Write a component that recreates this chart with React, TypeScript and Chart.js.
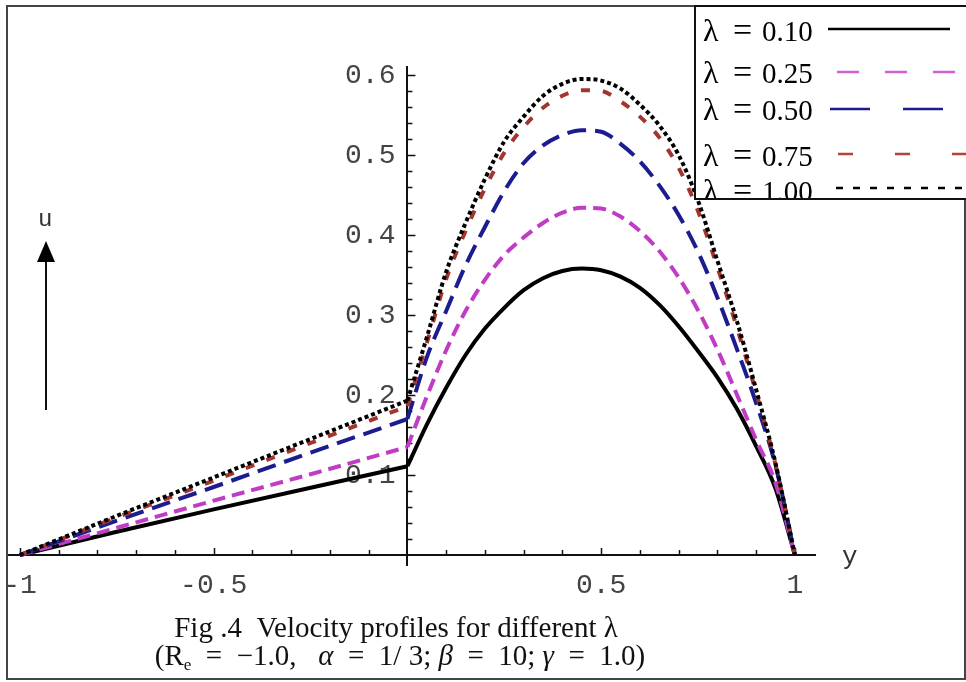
import React, { useEffect, useRef } from "react";
import { Chart, registerables } from "chart.js";

Chart.register(...registerables);

// Horizontal coordinate (labelled "y" in the figure)
const yPositions = [-1, -0.75, -0.5, -0.25, 0, 0.05, 0.1, 0.15, 0.2, 0.25, 0.3, 0.35, 0.4, 0.45, 0.5, 0.55, 0.6, 0.65, 0.7, 0.75, 0.8, 0.85, 0.9, 0.95, 1];

// Velocity u for each lambda
const uLambda010 = [0, 0.029, 0.057, 0.084, 0.111, 0.163, 0.209, 0.25, 0.283, 0.309, 0.331, 0.346, 0.355, 0.358, 0.356, 0.348, 0.334, 0.313, 0.286, 0.255, 0.222, 0.183, 0.136, 0.083, 0];
const uLambda025 = [0, 0.034, 0.068, 0.101, 0.135, 0.198, 0.256, 0.305, 0.344, 0.375, 0.397, 0.415, 0.428, 0.434, 0.433, 0.423, 0.405, 0.38, 0.347, 0.306, 0.257, 0.201, 0.144, 0.09, 0];
const uLambda050 = [0, 0.043, 0.085, 0.128, 0.17, 0.247, 0.305, 0.362, 0.41, 0.455, 0.49, 0.512, 0.525, 0.531, 0.529, 0.514, 0.492, 0.462, 0.425, 0.379, 0.322, 0.258, 0.19, 0.112, 0];
const uLambda075 = [0, 0.047, 0.093, 0.14, 0.186, 0.265, 0.345, 0.405, 0.458, 0.503, 0.535, 0.559, 0.574, 0.581, 0.58, 0.567, 0.548, 0.522, 0.484, 0.43, 0.36, 0.285, 0.203, 0.113, 0];
const uLambda100 = [0, 0.049, 0.097, 0.145, 0.193, 0.272, 0.354, 0.415, 0.47, 0.517, 0.548, 0.574, 0.589, 0.595, 0.593, 0.583, 0.563, 0.537, 0.5, 0.443, 0.368, 0.293, 0.207, 0.115, 0];

const seriesLabels = ["λ = 0.10", "λ = 0.25", "λ = 0.50", "λ = 0.75", "λ = 1.00"];

// Axis ticks
const xTickValues = [-1, -0.5, 0.5, 1];
const yTickValues = [0.1, 0.2, 0.3, 0.4, 0.5, 0.6];
const xMarkValues = [-1, -0.9, -0.8, -0.7, -0.6, -0.5, -0.4, -0.3, -0.2, -0.1, 0.1, 0.2, 0.3, 0.4, 0.5, 0.6, 0.7, 0.8, 0.9, 1];
const yMarkValues = [0.02, 0.04, 0.06, 0.08, 0.1, 0.12, 0.14, 0.16, 0.18, 0.2, 0.22, 0.24, 0.26, 0.28, 0.3, 0.32, 0.34, 0.36, 0.38, 0.4, 0.42, 0.44, 0.46, 0.48, 0.5, 0.52, 0.54, 0.56, 0.58, 0.6];

const captionLine1 = "Fig .4  Velocity profiles for different λ";
const axisLabelX = "y";
const axisLabelY = "u";

const MONO = "'Liberation Mono', 'DejaVu Sans Mono', monospace";
const SERIF = "'Liberation Serif', 'DejaVu Serif', serif";

const styles = [
  { color: "#000000", dash: [] as number[], order: 4, legendColor: "#000000", legendDash: [] as number[], legendStart: 828, lineY: 29, base: 41 },
  { color: "#C03CC4", dash: [13, 7], order: 3, legendColor: "#D060D0", legendDash: [22, 26], legendStart: 837, lineY: 72, base: 83 },
  { color: "#1C1C8E", dash: [19, 9], order: 2, legendColor: "#1C1C8E", legendDash: [40, 33], legendStart: 830, lineY: 109, base: 120 },
  { color: "#A4342E", dash: [9, 13], order: 1, legendColor: "#B0443C", legendDash: [15, 42], legendStart: 838, lineY: 154, base: 166 },
  { color: "#000000", dash: [4, 3], order: 0, legendColor: "#000000", legendDash: [7, 10], legendStart: 836, lineY: 188, base: 201 },
];

const seriesValues = [uLambda010, uLambda025, uLambda050, uLambda075, uLambda100];

const markPlugin = {
  id: "axisMarks",
  beforeDatasetsDraw(chart: any) {
    const { ctx } = chart;
    const xs = chart.scales.x;
    const ys = chart.scales.y;
    const x0 = xs.getPixelForValue(0);
    const y0 = ys.getPixelForValue(0);
    ctx.save();
    ctx.strokeStyle = "#111";
    ctx.lineWidth = 1.5;
    ctx.beginPath();
    xMarkValues.forEach((v) => {
      const px = Math.round(xs.getPixelForValue(v)) + 0.5;
      const len = xTickValues.includes(v) ? 7 : 5;
      ctx.moveTo(px, y0);
      ctx.lineTo(px, y0 - len);
    });
    yMarkValues.forEach((v) => {
      const py = Math.round(ys.getPixelForValue(v)) + 0.5;
      const major = Math.abs(v * 10 - Math.round(v * 10)) < 1e-6;
      const len = major ? 8 : 5;
      ctx.moveTo(x0, py);
      ctx.lineTo(x0 + len, py);
    });
    ctx.stroke();
    // y tick labels, placed from the y scale
    ctx.fillStyle = "#444";
    ctx.font = `28px ${MONO}`;
    ctx.textAlign = "right";
    ctx.textBaseline = "middle";
    yTickValues.forEach((v) => {
      ctx.fillText(v.toFixed(1), x0 - 12, ys.getPixelForValue(v) + 1);
    });
    ctx.restore();
  },
};

const decorPlugin = {
  id: "decor",
  afterDraw(chart: any) {
    const { ctx } = chart;
    const ys = chart.scales.y;
    ctx.save();
    // outer frame
    ctx.strokeStyle = "#444";
    ctx.lineWidth = 2;
    ctx.strokeRect(7, 6, 958, 673);

    // legend box
    const bx = 695, by = 6, bw = 300, bh = 193;
    ctx.fillStyle = "#fff";
    ctx.fillRect(bx, by, bw, bh);
    ctx.save();
    ctx.beginPath();
    ctx.rect(bx, by, bw, bh);
    ctx.clip();
    seriesLabels.forEach((label, i) => {
      const st = styles[i];
      const parts = label.split(" = ");
      ctx.fillStyle = "#000";
      ctx.textBaseline = "alphabetic";
      ctx.textAlign = "left";
      ctx.font = `32px ${SERIF}`;
      ctx.fillText(parts[0], 703, st.base);
      ctx.font = `34px ${SERIF}`;
      ctx.fillText("=", 733, st.base);
      ctx.font = `29px ${SERIF}`;
      ctx.fillText(parts[1], 762, st.base);
      ctx.strokeStyle = st.legendColor;
      ctx.lineWidth = 2.5;
      ctx.setLineDash(st.legendDash);
      ctx.beginPath();
      ctx.moveTo(st.legendStart, st.lineY);
      ctx.lineTo(i === 0 ? 950 : 970, st.lineY);
      ctx.stroke();
      ctx.setLineDash([]);
    });
    ctx.restore();
    ctx.strokeStyle = "#111";
    ctx.lineWidth = 2;
    ctx.strokeRect(bx, by, bw, bh);

    // axis label "y"
    ctx.fillStyle = "#333";
    ctx.font = `26px ${MONO}`;
    ctx.textAlign = "left";
    ctx.textBaseline = "alphabetic";
    ctx.fillText(axisLabelX, 842, ys.getPixelForValue(0) + 9);

    // axis label "u" with arrow
    ctx.font = `24px ${MONO}`;
    ctx.fillText(axisLabelY, 38, 226);
    ctx.strokeStyle = "#111";
    ctx.lineWidth = 2;
    ctx.beginPath();
    ctx.moveTo(46, 410);
    ctx.lineTo(46, 258);
    ctx.stroke();
    ctx.fillStyle = "#000";
    ctx.beginPath();
    ctx.moveTo(37, 262);
    ctx.lineTo(55, 262);
    ctx.lineTo(46, 241);
    ctx.closePath();
    ctx.fill();

    // caption
    ctx.fillStyle = "#111";
    ctx.font = `29px ${SERIF}`;
    ctx.textAlign = "center";
    ctx.fillText(captionLine1, 396, 637);

    const segs: [string, string, number][] = [
      ["(R", `29px ${SERIF}`, 0],
      ["e", `17px ${SERIF}`, 5],
      ["  =  \u22121.0,   ", `29px ${SERIF}`, 0],
      ["α", `italic 29px ${SERIF}`, 0],
      ["  =  1/ 3; ", `29px ${SERIF}`, 0],
      ["β", `italic 29px ${SERIF}`, 0],
      ["  =  10; ", `29px ${SERIF}`, 0],
      ["γ", `italic 29px ${SERIF}`, 0],
      ["  =  1.0)", `29px ${SERIF}`, 0],
    ];
    ctx.textAlign = "left";
    let total = 0;
    segs.forEach(([t, f]) => {
      ctx.font = f;
      total += ctx.measureText(t).width;
    });
    let cx = 400 - total / 2;
    segs.forEach(([t, f, dy]) => {
      ctx.font = f;
      ctx.fillText(t, cx, 665 + dy);
      cx += ctx.measureText(t).width;
    });
    ctx.restore();
  },
};

export default function App() {
  const ref = useRef<HTMLCanvasElement>(null);
  useEffect(() => {
    const datasets: any[] = [];
    seriesValues.forEach((vals, i) => {
      const pts = yPositions.map((x, j) => ({ x, y: vals[j] }));
      const common = {
        label: seriesLabels[i],
        borderColor: styles[i].color,
        borderDash: styles[i].dash,
        borderWidth: 4,
        pointRadius: 0,
        fill: false,
        order: styles[i].order,
      };
      // left branch (y <= 0): nearly straight
      datasets.push({ ...common, data: pts.filter((p) => p.x <= 0), tension: 0 });
      // right branch (y >= 0): smooth profile
      datasets.push({ ...common, data: pts.filter((p) => p.x >= 0), cubicInterpolationMode: "monotone" });
    });
    const tickFont = { family: MONO, size: 28 };
    const chart = new Chart(ref.current as HTMLCanvasElement, {
      type: "line",
      data: { datasets },
      options: {
        animation: false,
        responsive: false,
        devicePixelRatio: 1,
        layout: { padding: { left: 8, right: 151, top: 67, bottom: 117 } },
        plugins: {
          legend: { display: false },
          tooltip: { enabled: false },
          title: { display: false },
        },
        scales: {
          x: {
            type: "linear",
            min: -1.031,
            max: 1.052,
            position: { y: 0 } as any,
            grid: { display: false, drawTicks: false },
            border: { display: true, color: "#111", width: 2 },
            ticks: {
              font: tickFont,
              color: "#444",
              padding: 14,
              maxRotation: 0,
              autoSkip: false,
              callback: (v: any) => String(v),
            },
            afterBuildTicks: (axis: any) => {
              axis.ticks = xTickValues.map((value) => ({ value }));
            },
            afterFit: (axis: any) => {
              axis.paddingLeft = 0;
              axis.paddingRight = 0;
              axis.paddingTop = 0;
              axis.paddingBottom = 0;
            },
          },
          y: {
            type: "linear",
            min: -0.0125,
            max: 0.61,
            position: { x: 0 } as any,
            grid: { display: false, drawTicks: false },
            border: { display: true, color: "#111", width: 2 },
            ticks: { display: false },
            afterBuildTicks: (axis: any) => {
              axis.ticks = yTickValues.map((value) => ({ value }));
            },
            afterFit: (axis: any) => {
              axis.paddingLeft = 0;
              axis.paddingRight = 0;
              axis.paddingTop = 0;
              axis.paddingBottom = 0;
            },
          },
        },
      },
      plugins: [markPlugin, decorPlugin],
    });
    return () => chart.destroy();
  }, []);
  return (
    <div style={{ position: "absolute", left: 0, top: 0, width: 966, height: 682, background: "#fff" }}>
      <canvas ref={ref} width={966} height={682} style={{ display: "block", width: 966, height: 682 }} />
    </div>
  );
}
